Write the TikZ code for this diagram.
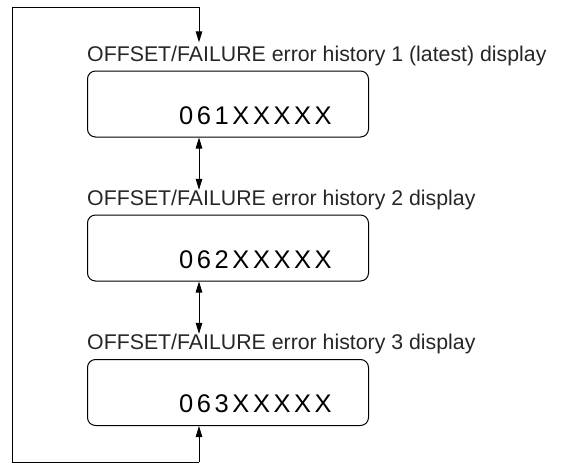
\documentclass[tikz,border=0pt]{standalone}
\usepackage{fontspec}
\setmainfont{Liberation Sans}
\newfontfamily\lcdfont[LetterSpace=14]{Liberation Sans}
\usetikzlibrary{arrows.meta}
\definecolor{txtgray}{HTML}{262626}
\begin{document}
\begin{tikzpicture}[x=1pt,y=-1pt,
  lbl/.style={anchor=base west, inner sep=0pt, font=\fontsize{21.3}{24}\selectfont, text=txtgray},
  dispbox/.style={draw, rounded corners=8pt, line width=1pt, minimum width=281pt, minimum height=66pt, anchor=north west, inner sep=0pt},
  disptext/.style={anchor=west, inner sep=0pt, font=\lcdfont\fontsize{25.5}{27}\selectfont, text=black},
  conn/.style={line width=1pt, -{Triangle[length=11pt,width=6.5pt]}},
  biconn/.style={line width=1pt, {Triangle[length=11pt,width=6.5pt]}-{Triangle[length=11pt,width=6.5pt]}}]
\useasboundingbox (0,0) rectangle (564,463);
% labels
\node[lbl] (lab1) at (87,61) {OFFSET/FAILURE error history 1 (latest) display};
\node[lbl] (lab2) at (87,205.5) {OFFSET/FAILURE error history 2 display};
\node[lbl] (lab3) at (87,349.5) {OFFSET/FAILURE error history 3 display};
% boxes
\node[dispbox] (box1) at (87,70.5) {};
\node[dispbox] (box2) at (87,214.5) {};
\node[dispbox] (box3) at (87,359) {};
% display texts
\node[disptext] (txt1) at (179,115.8) {061XXXXX};
\node[disptext] (txt2) at (179,259.7) {062XXXXX};
\node[disptext] (txt3) at (179,403.3) {063XXXXX};
% loop coordinates
\coordinate (tl) at (12.5,7.3);
\coordinate (tr) at (199,7.3);
\coordinate (bl) at (12.5,462);
\coordinate (br) at (199,462);
% connectors
\draw[conn, shorten >=3pt] (br) -- (bl) -- (tl) -- (tr) -- (tr |- lab1.north);
\draw[conn] (br) -- (br |- box3.south);
\draw[biconn] (box1.south -| tr) -- (lab2.north -| tr);
\draw[biconn] (box2.south -| tr) -- (lab3.north -| tr);
\end{tikzpicture}
\end{document}
